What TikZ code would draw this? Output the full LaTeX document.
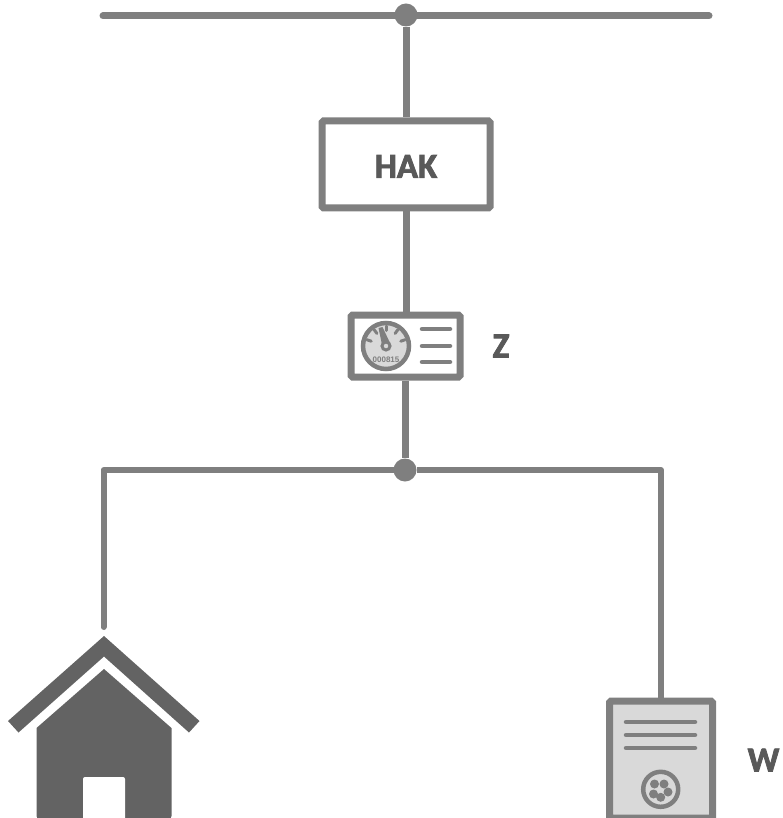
\documentclass[tikz,border=0pt]{standalone}
\usepackage{fontspec}
\setmainfont{Carlito}
\newfontfamily\arialf{Liberation Sans}
\newcommand{\heavytext}[1]{\special{pdf:code q 2 Tr 0.8 w}#1\special{pdf:code 0 Tr Q}}
\definecolor{ln}{HTML}{7F7F7F}
\definecolor{tx}{HTML}{595959}
\definecolor{hs}{HTML}{636363}
\definecolor{lg}{HTML}{D9D9D9}
\tikzset{
  wire/.style={draw=ln,line width=7pt,line cap=round},
  wirethin/.style={draw=ln,line width=6pt,line cap=round,line join=round},
  boxed/.style={draw=ln,line width=7pt,rounded corners=1.5pt,fill=white,inner sep=0pt},
  lbl/.style={text=tx,font=\fontsize{35}{35}\selectfont\bfseries,inner sep=0pt},
  dotj/.style={circle,fill=ln,inner sep=0pt,minimum size=23pt},
  barline/.style={draw=ln,line width=4.5pt,line cap=round},
  tick/.style={draw=ln,line width=3pt,line cap=round},
  blob/.style={fill=ln,circle,inner sep=0pt,minimum size=9pt},
}
\begin{document}
\begin{tikzpicture}[x=1pt,y=-1pt]
\clip (0,0) rectangle (782,818);
\useasboundingbox (0,0) rectangle (782,818);
\coordinate (busL) at (103,16);
\coordinate (busR) at (709,16);
\draw[wire] (busL) -- (busR);
\node[boxed,minimum width=168pt,minimum height=87pt] (hak) at (406,164.5) {};
\node[lbl] (haklabel) at (406,166.5) {\heavytext{HAK}};
\node[boxed,minimum width=109pt,minimum height=62pt] (meter) at (405.5,346) {};
\node[dotj] (j1) at (406,15) {};
\node[dotj] (j2) at (405,470) {};
\draw[wire,line cap=butt] (j1) -- (hak.north -| j1);
\draw[wire,line cap=butt] (hak.south -| j1) -- (meter.north -| j1);
\draw[wire,line cap=butt] (meter.south -| j2) -- (j2);
% dial
\node[circle,draw=ln,line width=4.5pt,fill=lg,minimum size=46pt,inner sep=0pt] (dial) at (386,346) {};
\foreach \a in {18,54,90,126,162}{
  \draw[tick] ({386+15.5*cos(\a)},{346-15.5*sin(\a)}) -- ({386+20*cos(\a)},{346-20*sin(\a)});
}
\fill[ln] (378.5,328) -- (382.5,327) -- (390.5,344) -- (382.5,347) -- cycle;
\node[circle,draw=ln,line width=3pt,fill=lg,minimum size=8pt,inner sep=0pt] (hub) at (386,346) {};
\node[text=ln,font=\arialf\fontsize{8}{8}\selectfont\bfseries,inner sep=0pt] (serial) at (386,360) {000815};
\draw[barline] (422,329) -- (450,329);
\draw[barline] (422,346) -- (450,346);
\draw[barline] (422,362) -- (450,362);
\node[lbl] (zl) at (501,346) {\heavytext{Z}};
% house
\fill[hs] (104,636) -- (199.5,721) -- (189,732.5) -- (104,656.5) -- (18.5,732.5) -- (8,721) -- cycle;
\fill[hs] (104,669) -- (171.5,728) -- (171.5,815) [rounded corners=3pt] -- (171.5,819) -- (36.5,819) [sharp corners] -- (36.5,728) -- cycle;
\fill[white] (83,830) [rounded corners=2pt] -- (83,777) -- (125,777) [sharp corners] -- (125,830) -- cycle;
\coordinate (houseTop) at (103.5,627);
\draw[wirethin] (houseTop) |- (j2);
% w box
\node[boxed,fill=lg,minimum width=103pt,minimum height=117pt] (wb) at (661,759.5) {};
\draw[wirethin,line cap=butt] (j2) -| (wb.north);
\draw[barline] (626,722) -- (695,722);
\draw[barline] (626,735) -- (695,735);
\draw[barline] (626,748) -- (695,748);
\node[circle,draw=ln,line width=4.5pt,fill=lg,minimum size=35pt,inner sep=0pt] (plug) at (660.7,789.3) {};
\node[blob] (b1) at (654.5,784) {};
\node[blob] (b2) at (664,784) {};
\node[blob] (b3) at (653.5,794) {};
\node[blob] (b4) at (668,792) {};
\node[blob] (b5) at (660.7,797.3) {};
\node[lbl] (wl) at (763.5,760) {\heavytext{W}};
\end{tikzpicture}
\end{document}
